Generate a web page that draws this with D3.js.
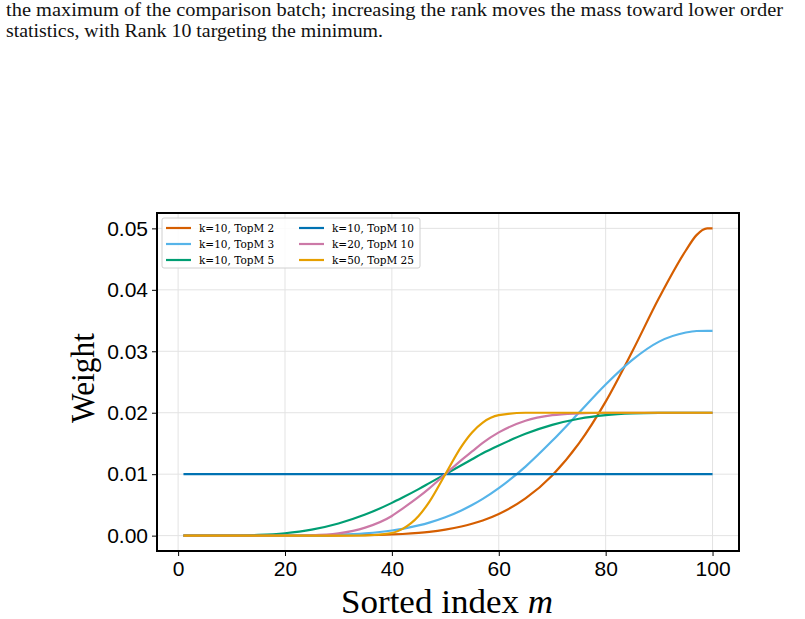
<!DOCTYPE html>
<html>
<head>
<meta charset="utf-8">
<script src="https://cdn.jsdelivr.net/npm/d3@7"></script>
<style>
  body { margin: 0; background: #fff; }
  svg { display: block; }
</style>
</head>
<body>
<div id="chart"></div>
<script>
const WIDTH = 805;
const HEIGHT = 619;

// frame of the axes (pixels)
const frame = {left: 157, right: 739, top: 213, bottom: 551};

// sorted index m where the curves were read
const mIndex = [1, 5, 10, 15, 20, 25, 30, 35, 40, 42, 45, 47, 50, 53, 55, 57, 60, 65, 70, 75, 80, 85, 90, 95, 97, 99, 100];

const k10top2  = [0, 0, 0, 0, 0.000001, 0.000005, 0.000022, 0.00007, 0.00019, 0.00027, 0.00045, 0.00062, 0.00098, 0.00148, 0.00193, 0.00247, 0.00353, 0.00605, 0.0098, 0.0150, 0.0218, 0.0300, 0.0387, 0.0464, 0.0489, 0.0500, 0.0500];
const k10top3  = [0, 0, 0, 0.000002, 0.00001, 0.000045, 0.00014, 0.00037, 0.00083, 0.00111, 0.00166, 0.00212, 0.00299, 0.0041, 0.00498, 0.00598, 0.00773, 0.01124, 0.01543, 0.0200, 0.0246, 0.0286, 0.03157, 0.03305, 0.0333, 0.03333, 0.03333];
const k10top5  = [0, 0, 0.00002, 0.00011, 0.00039, 0.00098, 0.00198, 0.00343, 0.00533, 0.0062, 0.00757, 0.00854, 0.0100, 0.01146, 0.01243, 0.0134, 0.01467, 0.01657, 0.01802, 0.01902, 0.01961, 0.01989, 0.01998, 0.0200, 0.0200, 0.0200, 0.0200];
const k10top10 = [0.01, 0.01, 0.01, 0.01, 0.01, 0.01, 0.01, 0.01, 0.01, 0.01, 0.01, 0.01, 0.01, 0.01, 0.01, 0.01, 0.01, 0.01, 0.01, 0.01, 0.01, 0.01, 0.01, 0.01, 0.01, 0.01, 0.01];
const k20top10 = [0, 0, 0, 0, 0.00001, 0.00006, 0.00036, 0.0013, 0.0032, 0.0044, 0.0063, 0.0077, 0.0100, 0.0123, 0.0137, 0.0151, 0.0168, 0.0187, 0.0196, 0.0199, 0.0200, 0.0200, 0.0200, 0.0200, 0.0200, 0.0200, 0.0200];
const k50top25 = [0, 0, 0, 0, 0, 0, 0, 0.00002, 0.00043, 0.0011, 0.0032, 0.0055, 0.0100, 0.0145, 0.0168, 0.0184, 0.0196, 0.0200, 0.0200, 0.0200, 0.0200, 0.0200, 0.0200, 0.0200, 0.0200, 0.0200, 0.0200];

const seriesNames = ['k=10, TopM 2', 'k=10, TopM 3', 'k=10, TopM 5', 'k=10, TopM 10', 'k=20, TopM 10', 'k=50, TopM 25'];
const seriesValues = [k10top2, k10top3, k10top5, k10top10, k20top10, k50top25];
const seriesColors = ['#d55e00', '#56b4e9', '#009e73', '#0072b2', '#cc79a7', '#e69f00'];

const xTicks = [0, 20, 40, 60, 80, 100];
const yTicks = [0, 0.01, 0.02, 0.03, 0.04, 0.05];

const captionLines = [
  'the maximum of the comparison batch; increasing the rank moves the mass toward lower order',
  'statistics, with Rank 10 targeting the minimum.'
];

const svg = d3.select('#chart')
  .append('svg')
    .attr('width', WIDTH)
    .attr('height', HEIGHT);

const serif = '"Liberation Serif", "Times New Roman", serif';

// caption text from the paper
svg.append('text')
  .attr('x', 6).attr('y', 16)
  .attr('textLength', 777)
  .attr('lengthAdjust', 'spacingAndGlyphs')
  .style('font-family', serif)
  .style('font-size', '19.5px')
  .style('fill', '#111')
  .text(captionLines[0]);
svg.append('text')
  .attr('x', 6).attr('y', 37)
  .attr('textLength', 377)
  .attr('lengthAdjust', 'spacingAndGlyphs')
  .style('font-family', serif)
  .style('font-size', '19.5px')
  .style('fill', '#111')
  .text(captionLines[1]);

const x = d3.scaleLinear()
  .domain([-3.95, 104.95])
  .range([frame.left, frame.right]);

const y = d3.scaleLinear()
  .domain([-0.0025, 0.0525])
  .range([frame.bottom, frame.top]);

// grid
const grid = svg.append('g').attr('class', 'grid');
grid.selectAll('.gx').data(xTicks).enter()
  .append('line')
    .attr('x1', d => x(d)).attr('x2', d => x(d))
    .attr('y1', frame.top).attr('y2', frame.bottom)
    .attr('stroke', '#e3e3e3').attr('stroke-width', 1);
grid.selectAll('.gy').data(yTicks).enter()
  .append('line')
    .attr('y1', d => y(d)).attr('y2', d => y(d))
    .attr('x1', frame.left).attr('x2', frame.right)
    .attr('stroke', '#e3e3e3').attr('stroke-width', 1);

// axes
const xAxis = d3.axisBottom(x).tickValues(xTicks).tickSize(5).tickPadding(5).tickFormat(d3.format('d'));
const yAxis = d3.axisLeft(y).tickValues(yTicks).tickSize(5).tickPadding(4).tickFormat(d3.format('.2f'));

const gx = svg.append('g')
  .attr('transform', `translate(0,${frame.bottom})`)
  .call(xAxis);
const gy = svg.append('g')
  .attr('transform', `translate(${frame.left},0)`)
  .call(yAxis);

[gx, gy].forEach(g => {
  g.select('.domain').remove();
  g.selectAll('.tick line').attr('stroke', '#000').attr('stroke-width', 1);
  g.selectAll('.tick text')
    .style('font-family', '"Liberation Sans", Arial, sans-serif')
    .style('font-size', '21px')
    .style('fill', '#000');
});

// curves
const line = d3.line()
  .x(d => x(d[0]))
  .y(d => y(d[1]))
  .curve(d3.curveMonotoneX);

const plot = svg.append('g');
seriesValues.forEach((vals, i) => {
  plot.append('path')
    .datum(mIndex.map((m, j) => [m, vals[j]]))
    .attr('fill', 'none')
    .attr('stroke', seriesColors[i])
    .attr('stroke-width', 2.2)
    .attr('d', line);
});

// frame
svg.append('rect')
  .attr('x', frame.left).attr('y', frame.top)
  .attr('width', frame.right - frame.left)
  .attr('height', frame.bottom - frame.top)
  .attr('fill', 'none')
  .attr('stroke', '#000')
  .attr('stroke-width', 2);

// legend
const legend = svg.append('g').attr('transform', 'translate(162,218)');
legend.append('rect')
  .attr('width', 258).attr('height', 50)
  .attr('rx', 2)
  .attr('fill', '#fff').attr('fill-opacity', 0.85)
  .attr('stroke', '#d0d0d0').attr('stroke-width', 1);

seriesNames.forEach((name, i) => {
  const col = Math.floor(i / 3);
  const row = i % 3;
  const lx = 4 + col * 133;
  const ly = 10 + row * 16;
  legend.append('line')
    .attr('x1', lx).attr('x2', lx + 25)
    .attr('y1', ly).attr('y2', ly)
    .attr('stroke', seriesColors[i]).attr('stroke-width', 2.2);
  legend.append('text')
    .attr('x', lx + 33).attr('y', ly + 4)
    .style('font-family', '"DejaVu Serif", "Liberation Serif", serif')
    .style('font-size', '10.5px')
    .style('fill', '#000')
    .text(name);
});

// axis labels
svg.append('text')
  .attr('transform', `translate(94,${(frame.top + frame.bottom) / 2 - 4}) rotate(-90)`)
  .attr('text-anchor', 'middle')
  .attr('textLength', 90)
  .attr('lengthAdjust', 'spacingAndGlyphs')
  .style('font-family', serif)
  .style('font-size', '33px')
  .style('fill', '#000')
  .text('Weight');

const xl = svg.append('text')
  .attr('x', 447).attr('y', 613)
  .attr('text-anchor', 'middle')
  .attr('textLength', 212)
  .attr('lengthAdjust', 'spacingAndGlyphs')
  .style('font-family', serif)
  .style('font-size', '33px')
  .style('fill', '#000');
xl.append('tspan').text('Sorted index ');
xl.append('tspan').style('font-style', 'italic').text('m');
</script>
</body>
</html>
